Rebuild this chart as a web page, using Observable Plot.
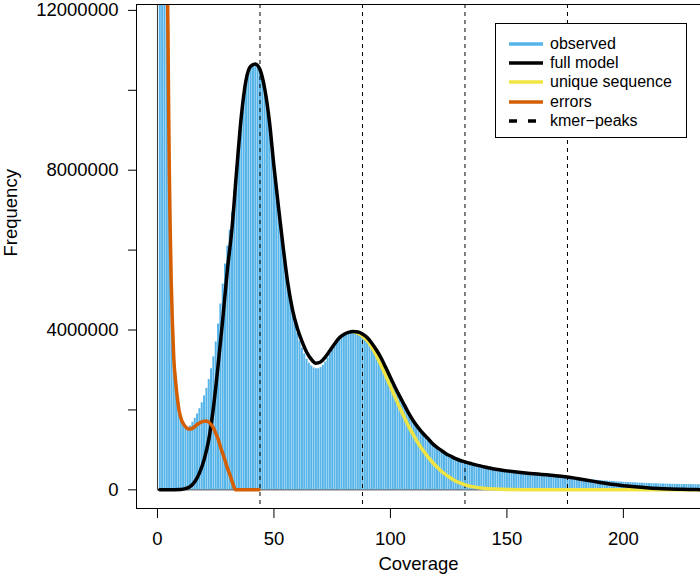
<!DOCTYPE html>
<html><head><meta charset="utf-8">
<script src="https://cdn.jsdelivr.net/npm/d3@7"></script>
<script src="https://cdn.jsdelivr.net/npm/@observablehq/plot@0.6"></script>
<style>
body{margin:0;background:#fff;}
#wrap{position:relative;width:700px;height:574px;font-family:"Liberation Sans",Arial,Helvetica,sans-serif;overflow:hidden;}
#legend{position:absolute;left:495px;top:23px;width:192px;height:115px;border:1px solid #000;background:#fff;box-sizing:border-box;}
.row{position:absolute;left:0;height:20px;width:190px;}
.row svg{position:absolute;left:13px;top:0;}
.row span{position:absolute;left:54px;top:0;line-height:20px;font-size:16px;color:#000;white-space:nowrap;}
</style></head><body><div id="wrap"></div>
<script>
// ---- data ----
const observedCov = d3.range(1, 234); // coverage 1..233 (integer bins)
const observedFreq = [
 80000000,40000000,20000000,12500000,8000000,4600000,3300000,2500000,2000000,1780000,
 1650000,1580000,1560000,1600000,1690000,1790000,1900000,2030000,2180000,2350000,
 2540000,2760000,3030000,3330000,3700000,4150000,4650000,5150000,5650000,6100000,
 6500000,6950000,7500000,8100000,8750000,9350000,9850000,10200000,10450000,10600000,
 10650000,10650000,10580000,10450000,10250000,9950000,9600000,9150000,8600000,8050000,
 7520000,7000000,6500000,6000000,5550000,5100000,4750000,4420000,4150000,3920000,
 3720000,3550000,3400000,3270000,3170000,3100000,3050000,3030000,3030000,3060000,
 3120000,3200000,3300000,3400000,3500000,3600000,3700000,3780000,3850000,3900000,
 3930000,3950000,3960000,3960000,3950000,3930000,3900000,3860000,3810000,3750000,
 3680000,3600000,3520000,3430000,3330000,3230000,3120000,3000000,2880000,2760000,
 2640000,2520000,2400000,2280000,2170000,2060000,1950000,1850000,1750000,1660000,
 1580000,1500000,1430000,1360000,1290000,1230000,1170000,1110000,1060000,1010000,
 970000,930000,890000,860000,830000,800000,770000,750000,730000,710000,
 690000,670000,655000,640000,625000,610000,600000,590000,580000,565000,
 555000,545000,535000,525000,515000,505000,495000,485000,475000,465000,
 458000,451000,444000,437000,430000,424000,418000,412000,406000,400000,
 394000,388000,382000,376000,370000,365000,360000,355000,350000,345000,
 340000,335000,330000,325000,320000,314000,308000,302000,296000,290000,
 284000,278000,272000,266000,260000,254000,248000,242000,236000,230000,
 226000,222000,218000,214000,210000,206000,202000,198000,194000,190000,
 187000,184000,181000,178000,175000,172000,169000,166000,163000,160000,
 158000,156000,154000,152000,150000,148000,146000,144000,142000,140000,
 139000,138000,137000,136000,135000,134000,133000,132000,131000,130000,
 129000,128000,127000
];
const modelCov = [1,5,10,12,14,16,18,20,22,24,26,28,30,32,34,36,38,40,42,44,46,48,50,52,54,56,58,60,62,64,66,68,70,72,74,76,78,80,82,84,86,88,90,92,94,96,98,100,102,104,106,108,110,112,114,116,118,120,122,124,126,128,130,132,134,136,138,140,142,144,146,148,150,155,160,165,170,175,180,185,190,195,200,205,210,215,220,225,230,233];
const modelFreq = [0,0,10000,30000,80000,200000,420000,750000,1250000,2050000,3100000,4250000,5500000,6550000,8000000,9350000,10250000,10600000,10660000,10520000,10050000,9250000,8100000,7050000,6050000,5150000,4500000,4050000,3720000,3450000,3270000,3170000,3200000,3320000,3480000,3650000,3800000,3890000,3940000,3960000,3950000,3900000,3810000,3670000,3500000,3300000,3060000,2810000,2570000,2340000,2120000,1900000,1710000,1550000,1410000,1290000,1160000,1060000,980000,900000,840000,780000,735000,700000,665000,635000,605000,580000,555000,530000,510000,490000,475000,440000,410000,385000,360000,330000,285000,235000,185000,140000,105000,75000,50000,32000,20000,12000,7000,5000];
const uniqueCov = [84,86,88,90,92,94,96,98,100,102,104,106,108,110,112,114,116,118,120,122,124,126,128,130,132,135,140,145,150,160,175,200,233];
const uniqueFreq = [3960000,3920000,3850000,3740000,3570000,3360000,3120000,2860000,2590000,2320000,2060000,1810000,1570000,1360000,1160000,990000,830000,690000,570000,460000,370000,290000,220000,170000,125000,80000,40000,20000,10000,4000,1000,0,0];
const errorCov = [4.2,4.5,4.8,5.1,5.5,5.9,6.4,7,7.9,9.3,10.3,11.5,12.5,13.6,15,17.2,19,20.8,22.3,23.7,25,25.8,27,28.6,30,31.5,32.5,33.6,43.6];
const errorFreq = [13000000,11500000,9500000,7900000,6400000,5200000,4200000,3300000,2650000,1980000,1750000,1620000,1550000,1520000,1540000,1640000,1700000,1720000,1680000,1580000,1420000,1310000,1080000,810000,550000,310000,130000,0,0];
const kmerPeaks = [44, 88, 132, 176];
const xTicks = [0, 50, 100, 150, 200];
const yTicks = [0, 2000000, 4000000, 6000000, 8000000, 10000000, 12000000];
const yTickLabels = ["0", "", "4000000", "", "8000000", "", "12000000"];
const legendLabels = ["observed", "full model", "unique sequence", "errors", "kmer\u2212peaks"];
const legendColors = ["#56B4E9", "#000000", "#F0E442", "#D55E00", "#000000"];
const legendDash = [null, null, null, null, "8,11"];

// ---- tables ----
const obs = observedCov.map((c, i) => ({cov: c, freq: observedFreq[i]}));
const model = modelCov.map((c, i) => ({cov: c, freq: modelFreq[i]}));
const uniq = uniqueCov.map((c, i) => ({cov: c, freq: uniqueFreq[i]}));
const errs = errorCov.map((c, i) => ({cov: c, freq: errorFreq[i]}));
const bgRight = d3.max(observedCov) * 1.1;
const bgTop = d3.max(observedFreq) * 1.1;

const FONT = "Liberation Sans, Arial, Helvetica, sans-serif";
const chart = Plot.plot({
  width: 700, height: 574,
  marginLeft: 136, marginRight: 0, marginTop: 4, marginBottom: 66,
  style: {fontFamily: FONT, fontSize: "18.5px", color: "#000", background: "#fff"},
  x: {domain: [-9, 233.1]},
  y: {domain: [-467000, 12147000]},
  marks: [
    Plot.ruleX([0], {y1: 0, y2: bgTop, stroke: "#333", strokeWidth: 1, clip: true}),
    Plot.ruleY([0], {x1: 0, x2: bgRight, stroke: "#333", strokeWidth: 1, clip: true}),
    Plot.ruleX(obs, {x: "cov", y1: 0, y2: "freq", stroke: "#56B4E9", strokeWidth: 2, clip: true}),
    Plot.ruleX(kmerPeaks, {stroke: "#000", strokeWidth: 1, strokeDasharray: "4,4"}),
    Plot.line(uniq, {x: "cov", y: "freq", stroke: "#F0E442", strokeWidth: 3.5, curve: "monotone-x", clip: true}),
    Plot.line(model, {x: "cov", y: "freq", stroke: "#000", strokeWidth: 3.5, curve: "monotone-x", clip: true}),
    Plot.line(errs, {x: "cov", y: "freq", stroke: "#D55E00", strokeWidth: 3.5, curve: "monotone-x", clip: true}),
    Plot.frame({stroke: "#000", strokeWidth: 1}),
    Plot.axisX({ticks: xTicks, tickSize: 10, tickPadding: 13, label: null, fontSize: 18.5}),
    Plot.axisY({ticks: yTicks, tickSize: 8, tickPadding: 10, label: null, fontSize: 18.5,
      tickFormat: (d) => yTickLabels[yTicks.indexOf(d)]}),
    Plot.text(["Coverage"], {frameAnchor: "bottom", dy: 61, fontSize: 18.5, fill: "#000"}),
    Plot.text(["Frequency"], {frameAnchor: "left", dx: -125, rotate: -90, fontSize: 18.5, fill: "#000"})
  ]
});
const wrap = document.getElementById("wrap");
wrap.appendChild(chart);

// legend (HTML overlay)
const leg = document.createElement("div");
leg.id = "legend";
legendLabels.forEach((lab, i) => {
  const row = document.createElement("div");
  row.className = "row";
  row.style.top = (9.7 + i * 19.3) + "px";
  const dash = legendDash[i] ? `stroke-dasharray="${legendDash[i]}"` : "";
  const len = legendDash[i] ? 27 : 34;
  row.innerHTML = `<svg width="36" height="20"><line x1="0" y1="10" x2="${len}" y2="10" stroke="${legendColors[i]}" stroke-width="3.5" ${dash}/></svg><span>${lab}</span>`;
  leg.appendChild(row);
});
wrap.appendChild(leg);
</script>
</body></html>
